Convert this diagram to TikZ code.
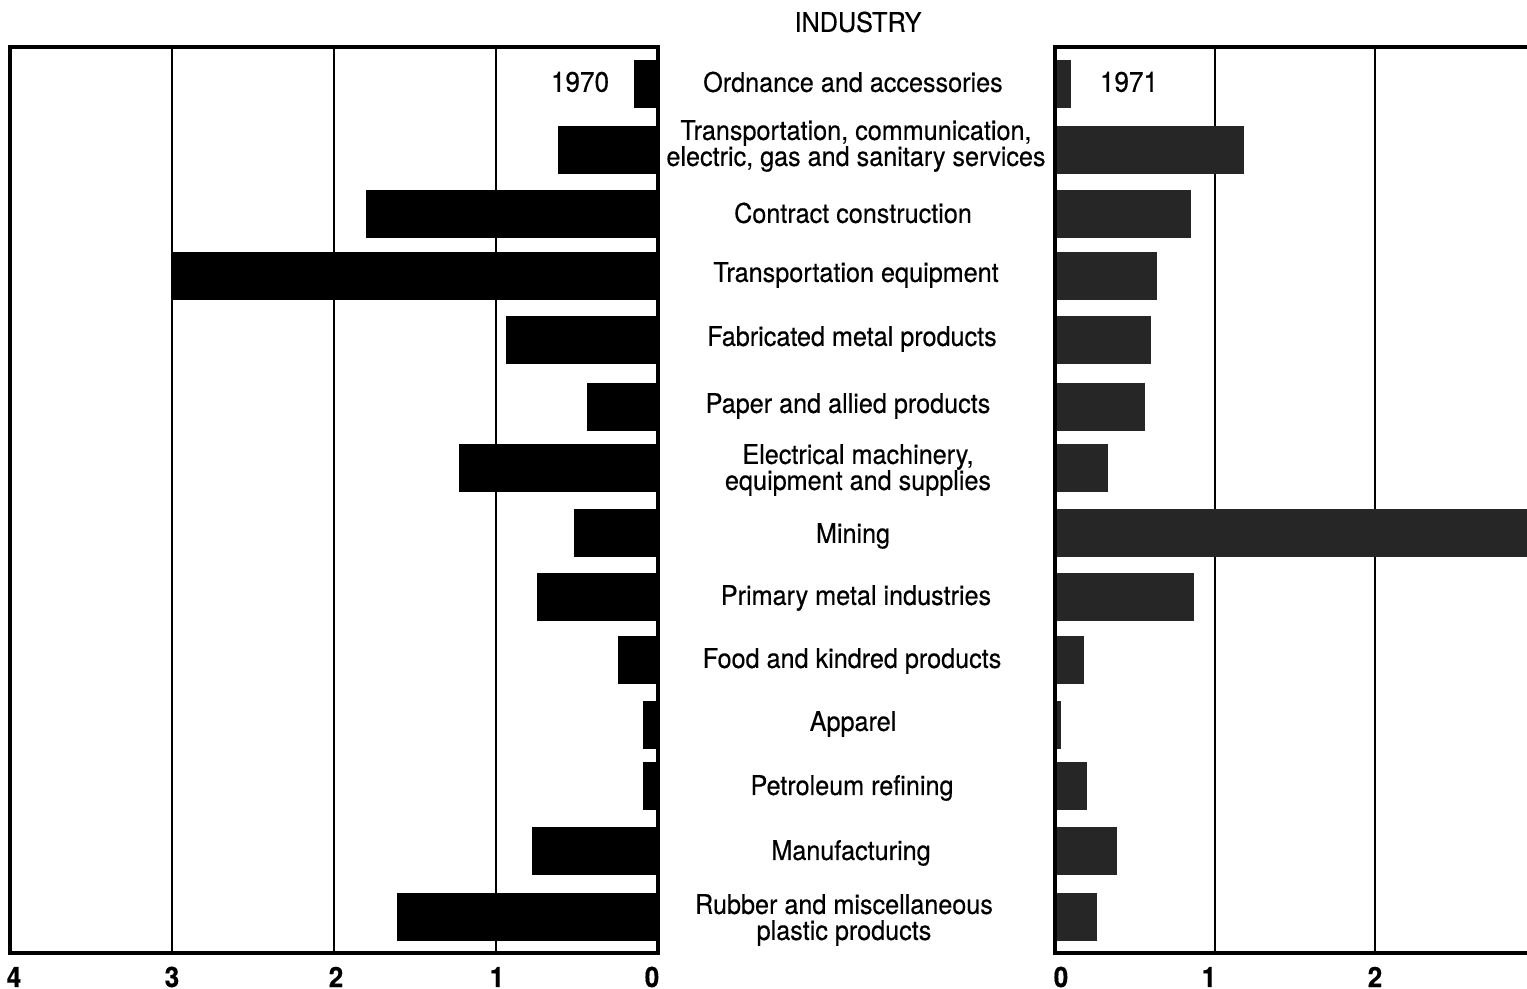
\documentclass[tikz,border=0pt]{standalone}
\usepackage{fontspec}
\setmainfont{TeX Gyre Heros}[FakeStretch=0.93,FakeBold=0.4]
\tikzstyle{frameline}=[black,line width=1pt]
\tikzstyle{gridline}=[black,line width=0.8pt]
\tikzstyle{oldbar}=[fill=black]
\tikzstyle{newbar}=[fill=black!85]
\tikzstyle{industry}=[align=center,inner sep=0pt,font=\fontsize{7.7}{7.4}\selectfont]
\tikzstyle{yearlabel}=[inner sep=0pt,font=\fontsize{8}{8}\selectfont]
\tikzstyle{ticklabel}=[inner sep=0pt,font=\bfseries\fontsize{8}{8}\selectfont]
\newcommand{\leftzero}{658}  % the 0 line of the 1970 panel
\newcommand{\rightzero}{1055} % the 0 line of the 1971 panel
\newcommand{\barhalf}{24}
\begin{document}
\begin{tikzpicture}[x=0.01cm,y=-0.01cm]
	\useasboundingbox (0,0) rectangle (1527,989);
	% grid lines
	\foreach \g in {1,2,3} {
		\draw[gridline] ({\leftzero-162*\g},47) -- ({\leftzero-162*\g},953);
	}
	\foreach \g in {1,2} {
		\draw[gridline] ({\rightzero+160*\g},47) -- ({\rightzero+160*\g},953);
	}
	% bars: 1970 value / 1971 value / middle of the row
	\foreach \old/\new/\yc in {0.15/0.10/84, 0.62/1.18/150, 1.80/0.85/214, 3.00/0.64/276,
		0.94/0.60/340, 0.44/0.56/407, 1.23/0.33/468, 0.52/2.95/533, 0.75/0.87/597,
		0.25/0.18/660, 0.09/0.04/725, 0.09/0.20/786, 0.78/0.39/851, 1.61/0.26/917} {
		\fill[oldbar] ({\leftzero-162*\old},{\yc-\barhalf}) rectangle (\leftzero,{\yc+\barhalf});
		\fill[newbar] (\rightzero,{\yc-\barhalf}) rectangle ({\rightzero+160*\new},{\yc+\barhalf});
	}
	% frames
	\draw[frameline] (10,47) rectangle (\leftzero,953);
	\draw[frameline] (1527,47) -- (\rightzero,47) -- (\rightzero,953) -- (1527,953);
	% texts
	\node[industry] (title) at (858,22) {INDUSTRY};
	\node[yearlabel] (old) at (580,82) {1970};
	\node[yearlabel] (new) at (1129,82) {1971};
	\node[industry] (ordnance) at (853,82) {Ordnance and accessories};
	\node[industry] (transport) at (856,146) {Transportation, communication,\\electric, gas and sanitary services};
	\node[industry] (construction) at (853,213) {Contract construction};
	\node[industry] (equipment) at (856,275) {Transportation equipment};
	\node[industry] (fabricated) at (852,339) {Fabricated metal products};
	\node[industry] (paper) at (848,406) {Paper and allied products};
	\node[industry] (electrical) at (858,470) {Electrical machinery,\\equipment and supplies};
	\node[industry] (mining) at (853,536) {Mining};
	\node[industry] (primary) at (856,598) {Primary metal industries};
	\node[industry] (food) at (852,661) {Food and kindred products};
	\node[industry] (apparel) at (853,724) {Apparel};
	\node[industry] (petroleum) at (852,788) {Petroleum refining};
	\node[industry] (manufacturing) at (851,853) {Manufacturing};
	\node[industry] (rubber) at (844,920) {Rubber and miscellaneous\\plastic products};
	% axis numbers
	\foreach \t/\xt in {4/14,3/172,2/336,1/497,0/652} {
		\node[ticklabel] (left\t) at (\xt,977) {\t};
	}
	\foreach \t/\xt in {0/1061,1/1209,2/1375} {
		\node[ticklabel] (right\t) at (\xt,977) {\t};
	}
\end{tikzpicture}
\end{document}
